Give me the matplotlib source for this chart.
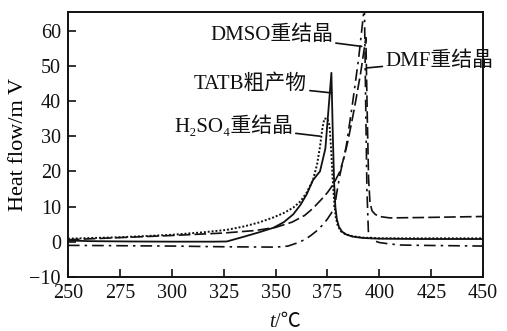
import matplotlib
matplotlib.use("Agg")
import matplotlib.pyplot as plt

plt.rcParams['font.family'] = ['Liberation Serif', 'Noto Sans CJK SC', 'DejaVu Sans']

# TATB crude product (solid)
tatb_x = [250, 260, 280, 300, 320, 326.5, 335, 342, 349, 354, 358.5, 362, 365, 368, 370, 371.4,
          374, 376.9, 377.6, 378.2, 378.8, 379.5, 380.5, 382, 384, 387, 392, 400, 420, 450]
tatb_y = [0.4, 0.2, 0.1, 0.05, 0.05, 0.1, 1.5, 2.7, 4.0, 5.6, 7.8, 10.5, 13.5, 17.5, 19.0, 20.0,
          26.5, 48, 30, 17, 10, 6.5, 4.3, 2.9, 2.1, 1.5, 1.1, 0.9, 0.8, 0.8]

# H2SO4 recrystallized (dotted)
h2so4_x = [250, 275, 300, 315, 326.5, 335, 342, 348.8, 354, 358.5, 362, 365, 368, 370, 371.4,
           372.5, 373.5, 375, 376, 376.8, 377.5, 378.3, 379, 380, 381.5, 383.5, 387, 392, 400, 420, 450]
h2so4_y = [0.9, 1.3, 2.0, 2.7, 3.4, 4.4, 5.5, 6.9, 8.2, 9.7, 11.5, 14, 17.5, 22, 27,
           32, 35, 35, 33, 26, 18, 11, 7, 4.5, 3.0, 2.2, 1.6, 1.2, 1.0, 1.0, 1.0]

# DMSO recrystallized (dash-dot)
dmso_x = [250, 275, 300, 325, 350, 356, 360, 364, 367, 370, 373, 375, 377, 378.6, 379.5, 381, 384,
          387, 390, 392.8, 393.4, 394, 394.7, 396, 398, 400, 405, 410, 420, 435, 450]
dmso_y = [-1.0, -1.1, -1.2, -1.4, -1.5, -1.2, -0.4, 0.6, 1.8, 3.2, 5.0, 6.5, 8.3, 10.5, 14, 19, 27,
          39, 52, 67, 40, 15, 3, 1.0, 0.2, -0.2, -0.6, -0.9, -1.0, -1.1, -1.2]

# DMF recrystallized (long dash)
dmf_x = [250, 275, 300, 325, 340, 350, 358, 364, 368, 372, 375, 378, 381, 383, 385, 388, 391,
         393.5, 394.2, 394.8, 395.5, 396.5, 398, 400, 405, 420, 450]
dmf_y = [0.6, 1.2, 1.8, 2.5, 3.2, 4.1, 5.6, 7.5, 9.5, 12, 14, 16.5, 20, 24, 29, 38, 48,
         58, 35, 18, 11, 8.8, 7.8, 7.2, 6.8, 6.9, 7.2]

xticks = [250, 275, 300, 325, 350, 375, 400, 425, 450]
yticks = [-10, 0, 10, 20, 30, 40, 50, 60]

fig = plt.figure(figsize=(5.07, 3.31), dpi=100)
ax = fig.add_axes([0.134, 0.163, 0.819, 0.801])

c = '#111111'
ax.plot(tatb_x, tatb_y, color=c, lw=1.3, ls='-')
ax.plot(h2so4_x, h2so4_y, color=c, lw=1.4, ls=(0, (1, 1)))
ax.plot(dmso_x, dmso_y, color=c, lw=1.2, ls=(0, (7, 3, 1.5, 3)))
ax.plot(dmf_x, dmf_y, color=c, lw=1.2, ls=(0, (7, 2.5)))

ax.set_xlim(250, 450)
ax.set_ylim(-10, 65.3)
ax.set_xticks(xticks)
ax.set_yticks(yticks)
ax.set_xticklabels([str(v) for v in xticks])
ax.set_yticklabels(['\u221210' if v < 0 else str(v) for v in yticks])
ax.tick_params(direction='in', length=6, width=1.2, labelsize=14.5, pad=5, colors=c)
for s in ax.spines.values():
    s.set_linewidth(1.4)
    s.set_color(c)

ax.set_ylabel('Heat flow/m V', fontsize=16, labelpad=1)
ax.text(0.499, -0.17, 't', transform=ax.transAxes, fontsize=14.5, style='italic',
        ha='right', va='center', color=c)
ax.text(0.499, -0.17, '/\u2103', transform=ax.transAxes, fontsize=14.5,
        ha='left', va='center', color=c)

fs = 15
def lab(text, tx, ty, ax0, ay0, ha):
    ax.annotate(text, xy=(ax0, ay0), xytext=(tx, ty), fontsize=fs, ha=ha, va='center',
                color=c, annotation_clip=False,
                arrowprops=dict(arrowstyle='-', color=c, lw=1.2, shrinkA=0, shrinkB=0))

lab('DMSO重结晶', 377.7, 58.8, 391.5, 55.5, 'right')
lab('DMF重结晶', 402.8, 51.3, 394.0, 49.4, 'left')
lab('TATB粗产物', 365.2, 44.7, 377.1, 42.3, 'right')
lab('H\u2082SO\u2084重结晶', 358.4, 32.9, 371.4, 30.0, 'right')

fig.savefig('out.png', dpi=100)
